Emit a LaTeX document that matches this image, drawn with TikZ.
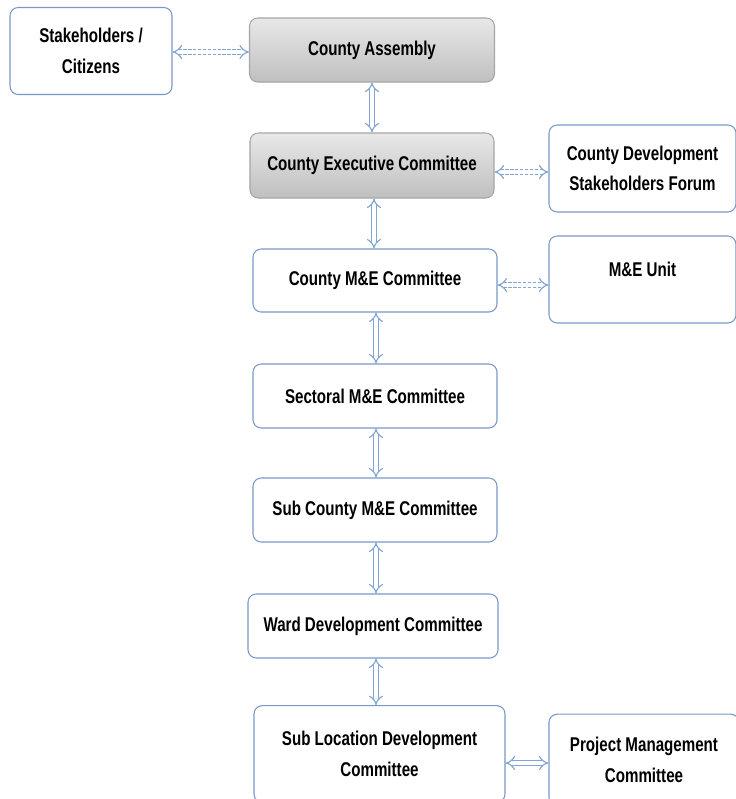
\documentclass[tikz,border=0pt]{standalone}
\usepackage{fontspec}
\setmainfont{Liberation Sans}[FakeStretch=0.76]
\usepackage{tikz}
\usetikzlibrary{arrows.meta}

\definecolor{boxblue}{RGB}{120,152,200}
\definecolor{linkblue}{RGB}{130,165,212}

\tikzset{
  box/.style={draw=boxblue, line width=0.9pt, rounded corners=7pt, fill=white,
    align=center, font=\fontsize{17}{26}\selectfont\bfseries, text=black},
  greybox/.style={box, draw=gray!70, top color=gray!18, bottom color=gray!50},
  link/.style={color=linkblue, line width=1pt, double=white, double distance=3.2pt,
    {Implies}-{Implies}},
  dashlink/.style={link, dash pattern=on 3pt off 1.2pt},
}

\begin{document}
\begin{tikzpicture}[yscale=-1, x=0.03cm, y=0.03cm]

        \useasboundingbox (0,0) rectangle (736,799);

        % top row
        \node[box, minimum width=4.86cm, minimum height=2.61cm] (citizens) at (91,51) {Stakeholders /\\Citizens};
        \node[greybox, minimum width=7.35cm, minimum height=1.92cm] (assembly) at (372,50) {County Assembly};
        \node[greybox, minimum width=7.32cm, minimum height=1.95cm] (exec) at (372,165.5) {County Executive Committee};
        \node[box, minimum width=5.61cm, minimum height=2.61cm] (forum) at (642.5,168.5) {County Development\\Stakeholders Forum};

        % M&E chain
        \node[box, minimum width=7.32cm, minimum height=1.89cm] (cme) at (375,280.5) {County M\&E Committee};
        \node[box, minimum width=5.61cm, minimum height=2.61cm, text depth=0.6cm] (unit) at (642.5,279.5) {M\&E Unit};
        \node[box, minimum width=7.32cm, minimum height=1.92cm] (sectoral) at (375,396) {Sectoral M\&E Committee};
        \node[box, minimum width=7.32cm, minimum height=1.92cm] (subcounty) at (375,510) {Sub County M\&E Committee};
        \node[box, minimum width=7.5cm, minimum height=1.92cm] (ward) at (373,626) {Ward Development Committee};
        \node[box, minimum width=7.53cm, minimum height=2.9cm] (subloc) at (379.5,754) {Sub Location Development\\Committee};
        \node[box, minimum width=5.7cm, minimum height=2.75cm] (pmc) at (644,760) {Project Management\\Committee};

        % links
        \draw[dashlink] (citizens.east |- 0,52) -- (assembly.west |- 0,52);
        \draw[link] (assembly) -- (exec);
        \draw[dashlink] (exec.east |- 0,172) -- (forum.west |- 0,172);
        \draw[link] (exec.south -| 374,0) -- (cme.north -| 374,0);
        \draw[dashlink] (cme.east |- 0,285) -- (unit.west |- 0,285);
        \foreach \a/\b in {cme/sectoral, sectoral/subcounty, subcounty/ward, ward/subloc} {
          \draw[link] (\a.south -| 376,0) -- (\b.north -| 376,0);
        }
        \draw[link] (subloc.east |- 0,763) -- (pmc.west |- 0,763);

    \end{tikzpicture}
\end{document}
